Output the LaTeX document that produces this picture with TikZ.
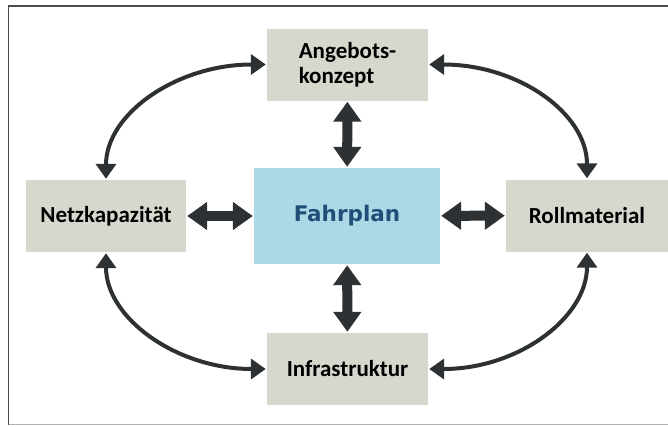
\documentclass[tikz,border=0pt]{standalone}
\usepackage{fontspec}
\setmainfont{Carlito}
\newfontfamily\fpfont{DejaVu Sans}
\usetikzlibrary{arrows.meta}
\definecolor{boxgray}{HTML}{D7D7CD}
\definecolor{fpblue}{HTML}{ADD8E6}
\definecolor{fptext}{HTML}{1F4E79}
\definecolor{arrowdark}{HTML}{2E3133}
\begin{document}
\begin{tikzpicture}[x=1pt,y=-1pt,
  graybox/.style={fill=boxgray, draw=none, minimum width=161pt, minimum height=72pt,
     inner sep=0pt, font=\fontsize{23}{25.5}\selectfont\bfseries, text=black},
  fpbox/.style={fill=fpblue, draw=none, minimum width=186pt, minimum height=96pt,
     inner sep=0pt, font=\fpfont\fontsize{21.5}{24}\selectfont\bfseries, text=fptext},
  bigarrow/.style={draw=arrowdark, line width=10pt,
     {Triangle[width=27pt,length=20pt]}-{Triangle[width=27pt,length=20pt]},
     shorten <=1pt, shorten >=1pt},
  curvearrow/.style={draw=arrowdark, line width=4pt,
     {Triangle[width=20pt,length=15pt]}-{Triangle[width=20pt,length=15pt]},
     shorten <=1pt, shorten >=1pt}
]
\useasboundingbox (0,0) rectangle (668,426);
\fill[white] (0,0) rectangle (668,426);
% frame
\coordinate (ftl) at (8.5,6);
\coordinate (ftr) at (668,6);
\coordinate (fbl) at (8.5,424.5);
\coordinate (fbr) at (668,424.5);
\draw[line width=1.2pt, draw=black!70] (fbl) -- (ftl) -- (ftr);
\draw[line width=1.2pt, draw=black!30] (fbl) -- (fbr);

% nodes
\node[graybox, align=left] (ang) at (347.5,64.5) {Angebots-\\konzept};
\node[graybox, minimum width=160pt] (netz) at (106,216) {Netzkapazität};
\node[graybox, minimum width=162pt] (roll) at (587,215.5) {Rollmaterial};
\node[graybox] (infra) at (347.5,369) {Infrastruktur};
\node[fpbox] (fp) at (347,216) {Fahrplan};

% straight arrows
\draw[bigarrow] (ang) -- (fp);
\draw[bigarrow] (fp) -- (infra);
\draw[bigarrow] (netz) -- (fp);
\draw[bigarrow] (fp) -- (roll);

% curved arrows
\draw[curvearrow] (netz.north) .. controls +(0,-66) and +(-90,0) .. (ang.west);
\draw[curvearrow] (ang.east) .. controls +(90,0) and +(0,-66) .. (roll.north);
\draw[curvearrow] (netz.south) .. controls +(0,66) and +(-90,0) .. (infra.west);
\draw[curvearrow] (infra.east) .. controls +(90,0) and +(0,66) .. (roll.south);
\end{tikzpicture}
\end{document}
